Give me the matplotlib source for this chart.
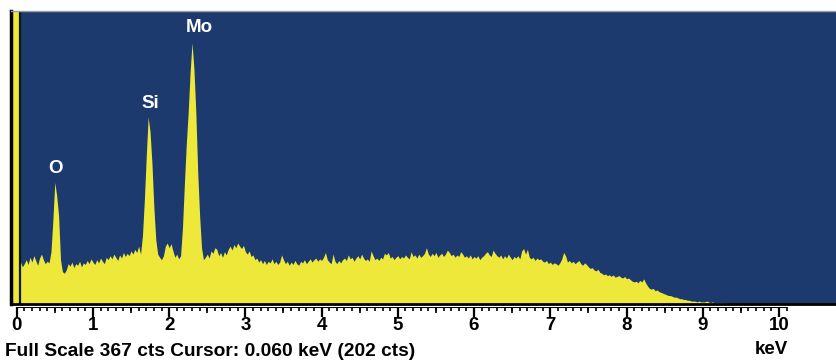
import numpy as np
import matplotlib.pyplot as plt

plt.rcParams['font.family'] = ['Liberation Sans', 'DejaVu Sans']
plt.rcParams['font.weight'] = 'bold'

navy = '#1c3a6e'
yellow = '#eee83b'

# EDS spectrum, counts per 0.025 keV channel, first channel at -0.075 keV
e_start = -0.075
e_step = 0.025
seg_zero = [400, 400, 400]
seg_0 = [400, 400, 52, 46, 50, 55, 49, 58, 52, 60,
         54, 48, 57, 62, 55, 50, 53, 51, 65, 105,
         152, 135, 110, 55, 40, 38, 42, 50, 47, 52,
         45, 50, 48, 53, 46, 51, 49, 54, 50, 56]
seg_1 = [52, 49, 55, 51, 57, 53, 50, 58, 55, 60,
         56, 62, 58, 54, 61, 57, 64, 59, 63, 60,
         66, 62, 68, 64, 72, 62, 85, 130, 185, 234,
         215, 175, 120, 80, 62, 58, 55, 60, 72, 76]
seg_2 = [70, 75, 66, 58, 62, 56, 60, 95, 150, 200,
         240, 290, 327, 295, 240, 165, 110, 70, 55, 58,
         62, 57, 66, 63, 70, 68, 60, 64, 58, 65,
         61, 68, 72, 67, 74, 70, 76, 72, 69, 73]
seg_3 = [65, 62, 66, 59, 61, 55, 57, 52, 55, 50,
         54, 49, 53, 51, 56, 50, 53, 49, 52, 61,
         55, 50, 53, 48, 52, 49, 54, 50, 48, 53,
         51, 55, 50, 53, 56, 52, 55, 57, 53, 56]
seg_4 = [54, 58, 64, 55, 52, 50, 62, 53, 50, 54,
         51, 55, 57, 54, 61, 56, 58, 53, 57, 60,
         56, 62, 57, 54, 56, 53, 66, 60, 55, 57,
         54, 58, 56, 63, 61, 64, 57, 59, 55, 58]
seg_5 = [60, 56, 59, 57, 61, 58, 56, 65, 59, 61,
         57, 62, 58, 60, 63, 70, 62, 59, 63, 60,
         64, 58, 61, 63, 59, 62, 67, 64, 60, 62,
         58, 61, 59, 65, 62, 58, 60, 57, 61, 56]
seg_6 = [59, 57, 60, 55, 58, 60, 63, 65, 61, 59,
         67, 63, 60, 58, 61, 56, 60, 57, 62, 58,
         55, 59, 57, 60, 56, 66, 69, 62, 68, 58,
         56, 58, 54, 57, 55, 56, 53, 52, 54, 50]
seg_7 = [52, 49, 51, 50, 48, 51, 56, 64, 60, 52,
         54, 51, 53, 50, 52, 54, 50, 48, 51, 49,
         46, 44, 45, 42, 41, 43, 39, 38, 36, 37,
         35, 36, 34, 36, 33, 34, 35, 33, 32, 34]
seg_8 = [31, 32, 30, 28, 27, 28, 26, 29, 27, 31,
         26, 22, 19, 18, 19, 16, 17, 15, 14, 13,
         12, 11, 10, 10, 9, 8, 8, 7, 6, 6,
         5, 5, 4, 4, 3, 3, 3, 2, 3, 2]
seg_9 = [2, 2, 3, 2, 1, 2, 1, 1, 1, 1,
         1, 1, 1, 0, 0, 0, 0, 0, 0, 0]

counts = np.array(seg_zero + seg_0 + seg_1 + seg_2 + seg_3 + seg_4 +
                  seg_5 + seg_6 + seg_7 + seg_8 + seg_9, dtype=float)
energy = e_start + e_step * np.arange(len(counts))

full_scale = 367
cursor_kev = 0.04
peak_names = ['O', 'Si', 'Mo']
peak_kev = [0.51, 1.75, 2.39]
peak_lbl_cts = [170, 251, 346]

W, H = 836, 360
fig = plt.figure(figsize=(W / 100, H / 100), dpi=100)

x0, x1 = -0.081, 10.748
ax = fig.add_axes([10.5 / W, 1 - 303.5 / H, 1 - 10.5 / W, (303.5 - 11) / H])
ax.set_facecolor(navy)
ax.fill_between(energy, 0, counts, color=yellow, lw=0)
ax.axvline(cursor_kev, color='#10180c', lw=1.6)
ax.set_xlim(x0, x1)
ax.set_ylim(0, full_scale)
ax.set_xticks([])
ax.set_yticks([])
ax.spines['left'].set_linewidth(2.5)
ax.spines['left'].set_color('black')
ax.spines['bottom'].set_linewidth(2)
ax.spines['bottom'].set_color('black')
ax.spines['top'].set_linewidth(1)
ax.spines['top'].set_color('#9aa0a8')
ax.spines['right'].set_visible(False)

for name, e, c in zip(peak_names, peak_kev, peak_lbl_cts):
    ax.text(e, c, name, color='white', fontsize=13.5, fontweight='bold',
            ha='center', va='center')

# ruler below the spectrum
rx = fig.add_axes([10.5 / W, 1 - 318 / H, 1 - 10.5 / W, 11.5 / H])
rx.set_xlim(x0, x1)
rx.set_ylim(11.5, 0)
rx.axis('off')
rx.hlines(0.5, 0, 10.1, color='black', lw=1.5)
minor = np.arange(0, 102) / 10
rx.vlines(minor, 0.5, 4, color='black', lw=1.2)
rx.vlines(np.arange(0, 21) / 2, 0.5, 6.5, color='black', lw=1.2)
rx.vlines(np.arange(0, 11), 0.5, 10.5, color='black', lw=1.6)
for k in range(11):
    rx.text(k, 19.5, str(k), ha='center', va='center', fontsize=13.5,
            fontweight='bold', clip_on=False)

fig.text(5 / W, 1 - 352 / H, 'Full Scale 367 cts Cursor: 0.060 keV (202 cts)',
         fontsize=13.8, fontweight='bold', ha='left', va='center')
fig.text(771 / W, 1 - 350 / H, 'keV', fontsize=13.5, fontweight='bold',
         ha='center', va='center')

fig.savefig('out.png', dpi=100)
